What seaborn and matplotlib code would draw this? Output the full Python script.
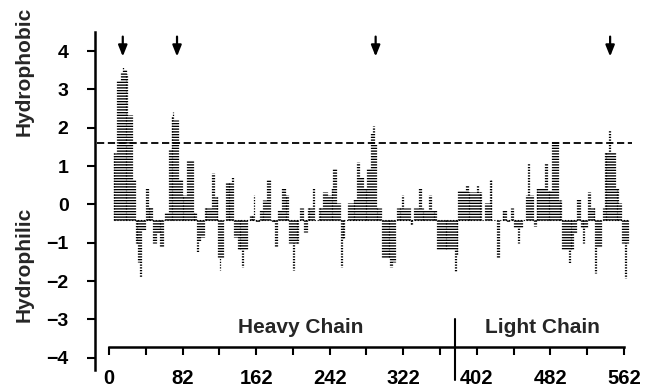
import numpy as np
import matplotlib
matplotlib.use("Agg")
import matplotlib.pyplot as plt
import seaborn as sns

# ---------- data (residue blocks) ----------
block_start = [7, 11, 15, 17, 18, 21, 23, 28, 31, 34, 36, 38, 42, 45, 50, 54, 58,
               63, 67, 70, 72, 73, 78, 82, 87, 94, 98, 100, 102, 106, 114, 117,
               121, 123, 124, 129, 136, 138, 142, 147, 149, 155, 160, 162, 166,
               170, 174, 179, 183, 186, 190, 194, 198, 202, 204, 210, 214, 218,
               224, 230, 235, 240, 244, 246, 250, 254, 256, 262, 268, 272, 275,
               279, 283, 287, 289, 291, 293, 299, 308, 311, 315, 321, 323, 330,
               334, 339, 342, 344, 350, 353, 359, 378, 380, 382, 390, 393, 402,
               404, 411, 416, 424, 430, 435, 439, 443, 447, 449, 456, 458, 460,
               464, 467, 476, 479, 484, 491, 495, 502, 504, 508, 511, 515, 518,
               520, 523, 526, 531, 533, 539, 541, 546, 548, 553, 557, 560, 563,
               565]
block_end = [10, 14, 16, 17, 20, 22, 27, 30, 33, 35, 37, 41, 44, 49, 53, 57, 61,
             66, 69, 71, 72, 77, 81, 86, 93, 97, 99, 101, 105, 113, 116, 120,
             122, 123, 126, 135, 137, 141, 146, 148, 152, 159, 160, 165, 169,
             173, 177, 182, 185, 189, 193, 197, 201, 203, 208, 213, 217, 223,
             225, 234, 239, 243, 245, 249, 253, 255, 258, 267, 271, 274, 278,
             282, 286, 288, 290, 292, 298, 307, 310, 313, 320, 322, 329, 332,
             338, 341, 343, 349, 352, 358, 377, 379, 381, 389, 392, 401, 403,
             407, 415, 418, 426, 434, 437, 441, 446, 448, 451, 457, 459, 463,
             466, 475, 478, 483, 490, 494, 501, 503, 507, 510, 514, 517, 519,
             522, 525, 530, 532, 537, 540, 545, 547, 552, 556, 559, 562, 564,
             566]
block_value = [1.34, 3.25, 3.45, 3.62, 3.5, 3.4, 2.34, 0.64, -1.0, -1.5, -1.9,
               -0.66, 0.43, -0.06, -1.0, -0.75, -1.12, -0.19, 1.42, 2.3, 2.42,
               2.2, 0.64, 0.25, 1.15, -0.19, -1.23, -0.95, -0.84, -0.08, 0.81,
               0.2, -1.36, -1.71, -1.36, 0.55, 0.73, -0.84, -1.19, -1.62, -1.19,
               -0.27, 0.25, -0.45, -0.14, 0.12, 0.64, -0.45, -1.1, -0.14, 0.42,
               0.25, -1.01, -1.71, -1.01, -0.1, -0.71, -0.1, 0.42, -0.1, 0.33,
               0.25, 0.42, 0.95, 0.03, -1.62, -0.9, 0.03, 0.16, 1.12, 0.73, 0.46,
               0.95, 1.9, 2.05, 1.6, -0.1, -1.4, -1.62, -1.5, -0.1, 0.25, -0.1,
               -0.53, -0.1, 0.46, -0.1, -0.14, 0.25, -0.14, -1.19, -1.75, -1.3,
               0.38, 0.51, 0.33, 0.51, 0.33, 0.03, 0.64, -1.4, -0.14, -0.45, -0.1,
               -0.6, -1.01, -0.6, 0.25, 1.07, 0.25, -0.55, 0.42, 1.07, 0.38, 1.64,
               0.12, -1.19, -1.53, -1.19, -0.75, 0.14, -0.6, -1.01, -0.6, 0.33,
               -0.1, -1.8, -1.1, -0.1, 1.38, 1.95, 1.38, 0.46, 0.03, -1.0, -1.93,
               -1.0]

baseline = -0.4
cutoff = 1.6
arrow_pos = [17, 76, 292, 547]
tick_pos = list(range(2, 563, 40))
tick_labels = ["0", "", "82", "", "162", "", "242", "", "322", "", "402", "",
               "482", "", "562"]
chain_split = 378

# expand blocks into one column per residue
res = []
vals = []
for s, e, v in zip(block_start, block_end, block_value):
    for r in range(s, e + 1):
        res.append(r)
        vals.append(v)
res = np.array(res)
vals = np.array(vals)

# ---------- plot ----------
sns.set_theme(style="ticks")
plt.rcParams['font.family'] = ['Liberation Sans', 'DejaVu Sans']
plt.rcParams['font.weight'] = 'bold'

fig = plt.figure(figsize=(6.47, 3.90), dpi=100)
ax = fig.add_axes([95 / 647, 20 / 390, 545 / 647, 338 / 390])
ax.set_xlim(-13.2, 579.5)
ax.set_ylim(-4.32, 4.50)

ax.vlines(res, baseline, vals, colors='black', linewidth=0.9,
          linestyles=(0, (1.0, 1.2)))
ax.hlines(baseline, 7, 566, colors='black', linewidth=0.8, linestyles=':')
ax.plot([-11, 571], [cutoff, cutoff], color='black', lw=1.3, ls=(0, (4, 2)))

# arrows marking the hydrophobic peaks
for r in arrow_pos:
    ax.annotate('', xy=(r, 3.86), xytext=(r, 4.38),
                arrowprops=dict(arrowstyle='-|>,head_length=0.55,head_width=0.22',
                                color='black', lw=1.6, shrinkA=0, shrinkB=0))

sns.despine(ax=ax, top=True, right=True, bottom=True)
ax.spines['left'].set_linewidth(1.8)
ax.spines['left'].set_color('black')
ax.set_xticks([])
ax.set_yticks(range(-4, 5))
ax.tick_params(axis='y', direction='out', length=6, width=1.5, labelsize=14,
               pad=13, colors='black')
for t in ax.get_yticklabels():
    t.set_fontweight('bold')

# hydrophobic / hydrophilic labels
fig.text(24 / 647, 1 - 71 / 390, 'Hydrophobic', rotation=90, ha='center',
         va='center', fontsize=15, fontweight='bold')
fig.text(24 / 647, 1 - 264 / 390, 'Hydrophilic', rotation=90, ha='center',
         va='center', fontsize=15, fontweight='bold')

# residue axis below the profile
ax_x = fig.add_axes([95 / 647, (390 - 347) / 390, 545 / 647, 0.0001])
ax_x.set_xlim(ax.get_xlim())
ax_x.set_yticks([])
ax_x.patch.set_visible(False)
for side in ['top', 'left', 'right']:
    ax_x.spines[side].set_visible(False)
ax_x.spines['bottom'].set_bounds(tick_pos[0], tick_pos[-1])
ax_x.spines['bottom'].set_linewidth(1.8)
ax_x.spines['bottom'].set_color('black')
ax_x.set_xticks(tick_pos)
ax_x.set_xticklabels(tick_labels)
ax_x.tick_params(axis='x', direction='out', length=6, width=1.5, labelsize=14.5,
                 pad=10, colors='black')
for t in ax_x.get_xticklabels():
    t.set_fontweight('bold')

ax.plot([chain_split, chain_split], [-3.0, -4.58], color='black', lw=1.5,
        clip_on=False)
ax.text(210, -3.2, 'Heavy Chain', ha='center', va='center', fontsize=15,
        fontweight='bold')
ax.text(473, -3.2, 'Light Chain', ha='center', va='center', fontsize=15,
        fontweight='bold')

fig.savefig('out.png', dpi=100)
